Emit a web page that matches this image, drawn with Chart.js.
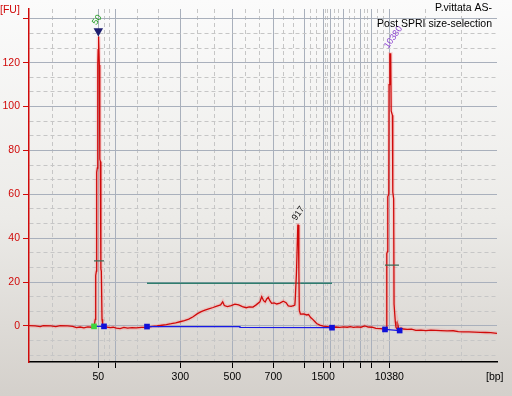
<!DOCTYPE html>
<html>
<head>
<meta charset="utf-8">
<script src="https://cdn.jsdelivr.net/npm/chart.js@4.4.1/dist/chart.umd.min.js"></script>
<style>
  html, body { margin: 0; padding: 0; }
  body {
    width: 512px; height: 396px; overflow: hidden;
    background: linear-gradient(to bottom, #fbfbfb 0%, #ecebe8 55%, #d4d0cb 100%);
  }
  canvas { display: block; }
</style>
</head>
<body>
<canvas id="electropherogram" width="512" height="396"></canvas>
<script>
"use strict";

// Electropherogram trace: migration time (s) and fluorescence (FU)
const traceTime = [
  40.0, 41.0, 41.8, 42.3, 43.5, 44.3, 45.0, 46.2, 47.0, 47.6, 48.2, 48.8, 49.4, 50.0,
  50.42, 50.62, 50.69, 50.80, 50.85, 50.95, 51.02, 51.08, 51.12, 51.20, 51.27, 51.35,
  51.43, 51.52, 51.59, 51.70, 51.80, 52.02,
  52.5, 53.0, 53.5, 54.0, 54.6, 55.2, 55.8, 56.5, 57.2, 58.0, 58.91,
  59.8, 60.5, 61.3, 62.0, 62.8, 63.5, 64.2, 64.9, 65.6, 66.3, 67.0, 67.6, 68.2, 68.8,
  69.5, 70.1, 70.7, 71.04, 71.3, 71.8, 72.4, 73.0, 73.6, 74.2, 74.8, 75.3, 75.9, 76.4,
  77.0, 77.29, 77.6, 77.85, 78.1, 78.35, 78.6, 78.89, 79.3, 79.7, 80.2, 80.75, 81.2,
  81.55, 82.0, 82.4, 82.60, 82.66, 82.86, 83.08, 83.16, 83.25, 83.32, 83.5, 84.0, 84.5,
  84.8, 85.1, 85.4, 85.8, 86.1, 86.6, 87.16, 87.8, 88.5, 89.2, 89.8, 90.4, 91.0, 91.5,
  92.0, 92.6, 93.2, 93.8, 94.4, 95.0, 95.6, 96.3, 97.0,
  97.30, 97.34, 97.46, 97.50, 97.66, 97.70, 97.80, 97.85, 97.97, 98.04, 98.24, 98.30,
  98.44, 98.50, 98.70, 98.81,
  99.0, 99.13, 99.3, 99.6, 100.0, 100.6, 101.3, 102.0, 102.8, 103.6, 104.4, 105.2, 106.0,
  107.0, 108.0, 108.8, 109.6, 110.5, 111.4, 112.3, 113.2, 114.0, 115.0
];
const traceFU = [
  0.1, 0.0, -0.3, 0.1, 0.0, -0.3, 0.1, 0.0, -0.2, -0.8, -0.5, -0.9, -0.4, -0.6,
  -0.4, 3, 23, 25, 70, 72, 119, 126, 132, 131, 119, 76,
  75, 26, 25, 3, 1, -0.3,
  -0.5, -0.8, -0.6, -1.0, -1.2, -0.7, -1.0, -0.8, -0.9, -0.7, -0.6,
  -0.2, 0.0, 0.3, 0.6, 1.0, 1.4, 1.9, 2.4, 3.1, 4.2, 5.6, 6.5, 7.2, 7.8,
  8.4, 9.0, 9.6, 11.0, 9.3, 8.8, 9.3, 9.9, 9.6, 8.8, 8.3, 8.7, 8.6, 9.6,
  11.0, 13.3, 11.5, 10.9, 12.3, 13.0, 11.5, 10.3, 10.5, 10.0, 10.4, 11.3, 10.6,
  9.1, 8.9, 9.2, 9.5, 11.7, 24, 46, 46, 25, 7.2, 5.4, 5.5, 5.0,
  5.2, 3.9, 3.2, 2.0, 1.1, 0.4, -0.1, -0.3, -0.6, -0.5, -0.7, -0.4, -0.6, -0.3,
  -0.7, -0.4, -0.6, 0.0, -0.5, -0.6, -1.1, -1.2, -1.4,
  -1.0, 33, 34, 59, 60, 110, 112, 124, 124, 98, 96, 61,
  58, 10, 2, -0.6,
  -1.5, 0.3, -1.8, -1.0, -1.4, -1.6, -1.5, -2.0, -1.9, -2.1, -1.9, -2.0, -2.1,
  -2.3, -2.2, -2.6, -2.7, -2.7, -2.8, -2.9, -3.0, -3.1, -3.4
];

// Ladder positions on the time axis and their size labels ('' = tick only)
const ladderTime = [51.11, 53.89, 64.25, 72.58, 79.15, 84.12, 87.16, 88.28, 90.37, 93.13, 94.89, 97.74];
const ladderLabel = ['50', '', '300', '500', '700', '', '1500', '', '', '', '', '10380'];

// Fluorescence axis ticks
const fuTicks = [0, 20, 40, 60, 80, 100, 120, 140];
const fuLabels = ['0', '20', '40', '60', '80', '100', '120', ''];

// Called peaks
const peakLabel = ['50', '917', '10380'];
const peakTime = [51.11, 83.12, 97.88];
const peakFU = [132, 46, 124];

// Lower marker (green) and peak / region boundaries (blue)
const lowerMarkerTime = [50.42];
const lowerMarkerFU = [-0.2];
const boundTime = [52.02, 58.91, 88.56, 97.05, 99.40];
const boundFU = [-0.2, -0.3, -0.8, -1.6, -2.1];

// Baseline segments (null = break)
const baseTime = [50.42, 52.02, 55.0, 58.91, 73.81, 73.81, 88.56, 93.0, 97.05, 99.40];
const baseFU = [-0.2, -0.2, null, -0.3, -0.3, -0.7, -0.8, null, -1.6, -2.1];

// Smear region bar
const regionTime = [58.91, 88.56];
const regionFU = [19.5, 19.5];

// Half-height width markers of the two marker peaks
const halfTime = [50.42, 52.02, 75.0, 97.05, 99.29];
const halfFU = [29.7, 29.7, null, 27.7, 27.7];

const pts = (xs, ys) => xs.map((x, i) => ({ x: x, y: ys[i] }));

// grid: solid at major values, dashed thirds in between
function thirds(edges) {
    const out = [];
    for (let i = 0; i < edges.length - 1; i++) {
        const a = edges[i], b = edges[i + 1];
        out.push(a + (b - a) / 3, a + 2 * (b - a) / 3);
    }
    return out;
}
const X_MIN = 40, X_MAX = 115, Y_MIN = -16.45, Y_MAX = 144.5;
const xMinor = thirds([X_MIN].concat(ladderTime, [X_MAX]));
const yMinor = thirds([-20].concat(fuTicks)).filter(v => v > Y_MIN);
const isXMajor = v => ladderTime.indexOf(v) !== -1;
const isYMajor = v => fuTicks.indexOf(v) !== -1;

const FONT = 'Liberation Sans';
const RED = '#d00a0a';

const textPlugin = {
    id: 'texts',
    afterDatasetsDraw(chart) {
        const { ctx, scales: { x, y } } = chart;
        const colors = ['#1f9a1f', '#111111', '#8a3fd0'];
        const lift = [11, 4, 5];
        peakLabel.forEach((txt, i) => {
            const px = x.getPixelForValue(peakTime[i]);
            const py = y.getPixelForValue(peakFU[i]);
            ctx.save();
            ctx.translate(px - 2, py - lift[i]);
            ctx.rotate(-55 * Math.PI / 180);
            ctx.fillStyle = colors[i];
            ctx.font = '9px "' + FONT + '"';
            ctx.textAlign = 'left';
            ctx.textBaseline = 'alphabetic';
            ctx.fillText(txt, 0, 0);
            ctx.restore();
        });
    },
    afterDraw(chart) {
        const ctx = chart.ctx;
        ctx.save();
        ctx.font = '10.5px "' + FONT + '"';
        ctx.textBaseline = 'alphabetic';
        ctx.fillStyle = '#000';
        ctx.textAlign = 'right';
        ctx.fillText('P.vittata AS-', 492, 11);
        ctx.fillText('Post SPRI size-selection', 492, 27);
        ctx.textAlign = 'left';
        ctx.fillText('[bp]', 486, 380);
        ctx.fillStyle = RED;
        ctx.fillText('[FU]', 0, 13);
        ctx.restore();
    }
};

new Chart(document.getElementById('electropherogram'), {
    type: 'line',
    data: {
        datasets: [
            { data: pts(halfTime, halfFU), borderColor: '#3d6b57', borderWidth: 1.2, pointRadius: 0, spanGaps: false, order: 1 },
            { data: pts(regionTime, regionFU), borderColor: '#2f7d6d', borderWidth: 1.5, pointRadius: 0, order: 6 },
            { data: pts(traceTime, traceFU), borderColor: 'rgba(255,120,120,0.22)', borderWidth: 4, pointRadius: 0, order: 5 },
            { data: pts(traceTime, traceFU), borderColor: RED, borderWidth: 1.3, pointRadius: 0, order: 4 },
            { data: pts(baseTime, baseFU), borderColor: '#1a1ae6', borderWidth: 1.3, pointRadius: 0, spanGaps: false, order: 3 },
            { type: 'scatter', data: pts(boundTime, boundFU), pointStyle: 'rect', pointRadius: 4,
              backgroundColor: '#1010d8', borderColor: '#1010d8', borderWidth: 0, order: 0 },
            { type: 'scatter', data: pts(lowerMarkerTime, lowerMarkerFU), pointStyle: 'rect', pointRadius: 4,
              backgroundColor: '#3fd43f', borderColor: '#3fd43f', borderWidth: 0, order: 0 },
            { type: 'scatter', data: [{ x: peakTime[0], y: 134.5 }], pointStyle: 'triangle', rotation: 180,
              pointRadius: 5.5, backgroundColor: '#1e1e70', borderColor: '#1e1e70', borderWidth: 0, order: 0 }
        ]
    },
    options: {
        responsive: false,
        animation: false,
        events: [],
        layout: { padding: { left: 0, right: 15, top: 9, bottom: 0 } },
        elements: { line: { tension: 0 } },
        plugins: { legend: { display: false }, tooltip: { enabled: false } },
        scales: {
            x: {
                type: 'linear', min: X_MIN, max: X_MAX,
                afterBuildTicks: s => { s.ticks = ladderTime.concat(xMinor).sort((a, b) => a - b).map(v => ({ value: v })); },
                afterFit: s => { s.height = 34; s.paddingLeft = 0; s.paddingRight = 0; },
                ticks: {
                    autoSkip: false, maxRotation: 0, padding: 3, color: '#000',
                    font: { family: FONT, size: 10.5 },
                    callback: v => { const i = ladderTime.indexOf(v); return i === -1 ? '' : ladderLabel[i]; }
                },
                grid: {
                    color: c => (c.tick && isXMajor(c.tick.value)) ? '#a9b0bc' : '#c6c6c6',
                    lineWidth: 1, tickLength: 6, tickWidth: 1,
                    tickColor: c => (c.tick && isXMajor(c.tick.value)) ? '#000' : 'rgba(0,0,0,0)'
                },
                border: { color: '#000', width: 1.5, dash: c => (c.tick && !isXMajor(c.tick.value)) ? [4, 3] : [] }
            },
            y: {
                type: 'linear', min: Y_MIN, max: Y_MAX,
                afterBuildTicks: s => { s.ticks = fuTicks.concat(yMinor).sort((a, b) => a - b).map(v => ({ value: v })); },
                afterFit: s => { s.width = 29; s.paddingTop = 0; s.paddingBottom = 0; },
                ticks: {
                    autoSkip: false, padding: 3, color: RED,
                    font: { family: FONT, size: 10.5 },
                    callback: v => { const i = fuTicks.indexOf(v); return i === -1 ? '' : fuLabels[i]; }
                },
                grid: {
                    color: c => (c.tick && isYMajor(c.tick.value)) ? '#a9b0bc' : '#c6c6c6',
                    lineWidth: 1, tickLength: 6, tickWidth: 1,
                    tickColor: c => (c.tick && isYMajor(c.tick.value)) ? RED : 'rgba(0,0,0,0)'
                },
                border: { color: RED, width: 1.5, dash: c => (c.tick && !isYMajor(c.tick.value)) ? [4, 3] : [] }
            }
        }
    },
    plugins: [textPlugin]
});
</script>
</body>
</html>
